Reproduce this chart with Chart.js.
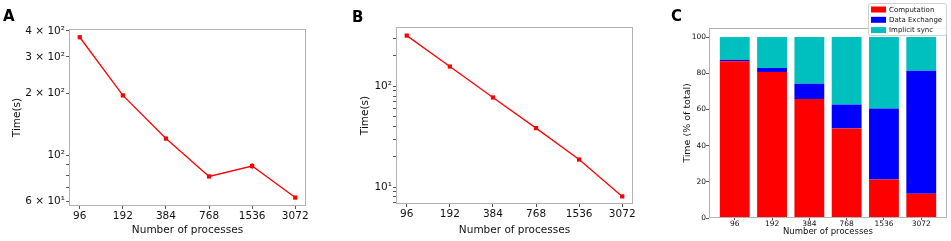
<!DOCTYPE html>
<html>
<head>
<meta charset="utf-8">
<script src="https://cdn.jsdelivr.net/npm/chart.js@4.4.1/dist/chart.umd.min.js"></script>
<style>
  body { margin: 0; background: #fff; width: 951px; height: 241px; overflow: hidden; position: relative; }
  canvas { position: absolute; top: 0; }
</style>
</head>
<body>
<canvas id="chartA" width="320" height="241" style="left:0"></canvas>
<canvas id="chartB" width="320" height="241" style="left:320px"></canvas>
<canvas id="chartC" width="311" height="241" style="left:640px"></canvas>
<script>
// data
const procs = ['96', '192', '384', '768', '1536', '3072'];

const timeA = [373, 195, 120.5, 79, 88.7, 62.4];
const errA = [0, 0, 0, 0, 3, 0];
const yTickValsA = [60, 70, 80, 90, 100, 200, 300, 400];
const yTickTextA = ['6 × 10¹', '', '', '', '10²', '2 × 10²', '3 × 10²', '4 × 10²'];

const timeB = [318, 157, 77.5, 38.5, 18.8, 8.1];
const yTickValsB = [7, 8, 9, 10, 20, 30, 40, 50, 60, 70, 80, 90, 100, 200, 300];
const yTickTextB = ['', '', '', '10¹', '', '', '', '', '', '', '', '', '10²', '', ''];

const computation = [86.6, 80.7, 65.7, 49.5, 21.3, 13.4];
const dataExchange = [0.8, 2.2, 8.5, 13.2, 39.2, 68.0];
const implicitSync = [12.6, 17.1, 25.8, 37.3, 39.5, 18.6];
const yTicksC = [0, 20, 40, 60, 80, 100];

const FONT = 'DejaVu Sans';
const TEXT = '#111';
const TICK = '#555';

const framePlugin = {
  id: 'frame',
  afterDatasetsDraw(chart) {
    const a = chart.chartArea, ctx = chart.ctx;
    ctx.save();
    ctx.strokeStyle = '#b3b3b3';
    ctx.lineWidth = 1;
    ctx.strokeRect(Math.round(a.left) + 0.5, Math.round(a.top) + 0.5,
      Math.round(a.right - a.left) - 1, Math.round(a.bottom - a.top) - 1);
    ctx.restore();
  }
};

const panelPlugin = {
  id: 'panel',
  afterDraw(chart, args, opts) {
    if (!opts.text) return;
    const ctx = chart.ctx;
    ctx.save();
    ctx.font = 'bold 15px "' + FONT + '"';
    ctx.fillStyle = '#000';
    ctx.textBaseline = 'alphabetic';
    ctx.fillText(opts.text, opts.x, opts.y);
    ctx.restore();
  }
};

const errPlugin = {
  id: 'errbars',
  afterDatasetsDraw(chart, args, opts) {
    if (!opts.err) return;
    const ctx = chart.ctx, xs = chart.scales.x, ys = chart.scales.y;
    const vals = chart.data.datasets[0].data;
    ctx.save();
    ctx.strokeStyle = 'red';
    ctx.lineWidth = 1;
    opts.err.forEach((e, i) => {
      if (!e) return;
      const x = xs.getPixelForValue(vals[i].x);
      ctx.beginPath();
      ctx.moveTo(x, ys.getPixelForValue(vals[i].y - e));
      ctx.lineTo(x, ys.getPixelForValue(vals[i].y + e));
      ctx.stroke();
    });
    ctx.restore();
  }
};

const legendPlugin = {
  id: 'boxLegend',
  afterDraw(chart, args, opts) {
    if (!opts.display) return;
    const ctx = chart.ctx;
    const bx = 228, by = 3, bw = 78, bh = 32;
    ctx.save();
    ctx.fillStyle = 'rgba(255,255,255,0.85)';
    ctx.strokeStyle = '#d0d0d0';
    ctx.lineWidth = 1;
    ctx.beginPath();
    ctx.roundRect(bx + 0.5, by + 0.5, bw, bh, 2);
    ctx.fill();
    ctx.stroke();
    ctx.font = '7px "' + FONT + '"';
    ctx.textBaseline = 'middle';
    chart.data.datasets.forEach((ds, i) => {
      const cy = by + 6.5 + i * 10.3;
      ctx.fillStyle = ds.backgroundColor;
      ctx.fillRect(bx + 3, cy - 3, 15, 6);
      ctx.fillStyle = TEXT;
      ctx.fillText(ds.label, bx + 21, cy + 0.5);
    });
    ctx.restore();
  }
};

function lineChart(id, values, tickVals, tickText, ymin, ymax, pad, yWidth, panel, err) {
  return new Chart(document.getElementById(id), {
    type: 'line',
    data: {
      datasets: [{
        data: values.map((v, i) => ({ x: i, y: v })),
        borderColor: 'red',
        backgroundColor: 'red',
        borderWidth: 1.3,
        pointStyle: 'rect',
        pointRadius: 3,
        pointBorderWidth: 0,
        tension: 0
      }]
    },
    plugins: [framePlugin, panelPlugin, errPlugin],
    options: {
      responsive: false,
      animation: false,
      layout: { padding: pad },
      plugins: {
        legend: { display: false },
        tooltip: { enabled: false },
        panel: panel,
        errbars: { err: err }
      },
      scales: {
        x: {
          type: 'linear', min: -0.25, max: 5.25,
          afterBuildTicks: s => { s.ticks = procs.map((p, i) => ({ value: i })); },
          ticks: { callback: (v, i) => procs[i], font: { family: FONT, size: 10.5 }, color: TEXT, padding: 1, maxRotation: 0, autoSkip: false },
          grid: { drawOnChartArea: false, tickLength: 3, tickColor: TICK },
          border: { display: false },
          title: { display: true, text: 'Number of processes', font: { family: FONT, size: 10.5 }, color: TEXT, padding: 0 },
          afterFit: s => { s.height = 241 - pad.top - 177 - pad.bottom; }
        },
        y: {
          type: 'logarithmic', min: ymin, max: ymax,
          afterBuildTicks: s => { s.ticks = tickVals.map(v => ({ value: v })); },
          ticks: { callback: (v, i) => tickText[i], font: { family: FONT, size: 10.5 }, color: TEXT, padding: 1, autoSkip: false },
          grid: { drawOnChartArea: false, tickLength: 3, tickColor: TICK },
          border: { display: false },
          title: { display: true, text: 'Time(s)', font: { family: FONT, size: 10.5 }, color: TEXT, padding: 0 },
          afterFit: s => { s.width = yWidth; }
        }
      }
    }
  });
}

lineChart('chartA', timeA, yTickValsA, yTickTextA, 56.8, 409,
  { left: 11, right: 14, top: 29, bottom: 4 }, 58, { text: 'A', x: 3, y: 21 }, errA);

lineChart('chartB', timeB, yTickValsB, yTickTextB, 6.81, 387,
  { left: 39, right: 7, top: 27, bottom: 4 }, 37, { text: 'B', x: 32, y: 22 }, null);

const barColors = ['#ff0000', '#0000ff', '#00bfbf'];
const toPts = arr => arr.map((v, i) => ({ x: i, y: v }));

new Chart(document.getElementById('chartC'), {
  type: 'bar',
  data: {
    datasets: [
      { label: 'Computation', data: toPts(computation), backgroundColor: barColors[0] },
      { label: 'Data Exchange', data: toPts(dataExchange), backgroundColor: barColors[1] },
      { label: 'Implicit sync', data: toPts(implicitSync), backgroundColor: barColors[2] }
    ]
  },
  plugins: [framePlugin, panelPlugin, legendPlugin],
  options: {
    responsive: false,
    animation: false,
    layout: { padding: { left: 42, right: 4, top: 28, bottom: 4 } },
    datasets: { bar: { barPercentage: 0.8, categoryPercentage: 1, borderWidth: 0 } },
    plugins: {
      legend: { display: false },
      tooltip: { enabled: false },
      panel: { text: 'C', x: 31, y: 21 },
      boxLegend: { display: true }
    },
    scales: {
      x: {
        type: 'linear', stacked: true, min: -0.69, max: 5.69, offset: false,
        afterBuildTicks: s => { s.ticks = procs.map((p, i) => ({ value: i })); },
        ticks: { callback: (v, i) => procs[i], font: { family: FONT, size: 7.5 }, color: TEXT, padding: 0, maxRotation: 0, autoSkip: false },
        grid: { drawOnChartArea: false, offset: false, tickLength: 2, tickColor: TICK },
        border: { display: false },
        title: { display: true, text: 'Number of processes', font: { family: FONT, size: 8.5 }, color: TEXT, padding: 0 },
        afterFit: s => { s.height = 19; }
      },
      y: {
        stacked: true, min: 0, max: 105,
        afterBuildTicks: s => { s.ticks = yTicksC.map(v => ({ value: v })); },
        ticks: { font: { family: FONT, size: 7.5 }, color: TEXT, padding: 0, autoSkip: false },
        grid: { drawOnChartArea: false, tickLength: 3, tickColor: TICK },
        border: { display: false },
        title: { display: true, text: 'Time (% of total)', font: { family: FONT, size: 9.5 }, color: TEXT, padding: 0 },
        afterFit: s => { s.width = 27; }
      }
    }
  }
});
</script>
</body>
</html>
